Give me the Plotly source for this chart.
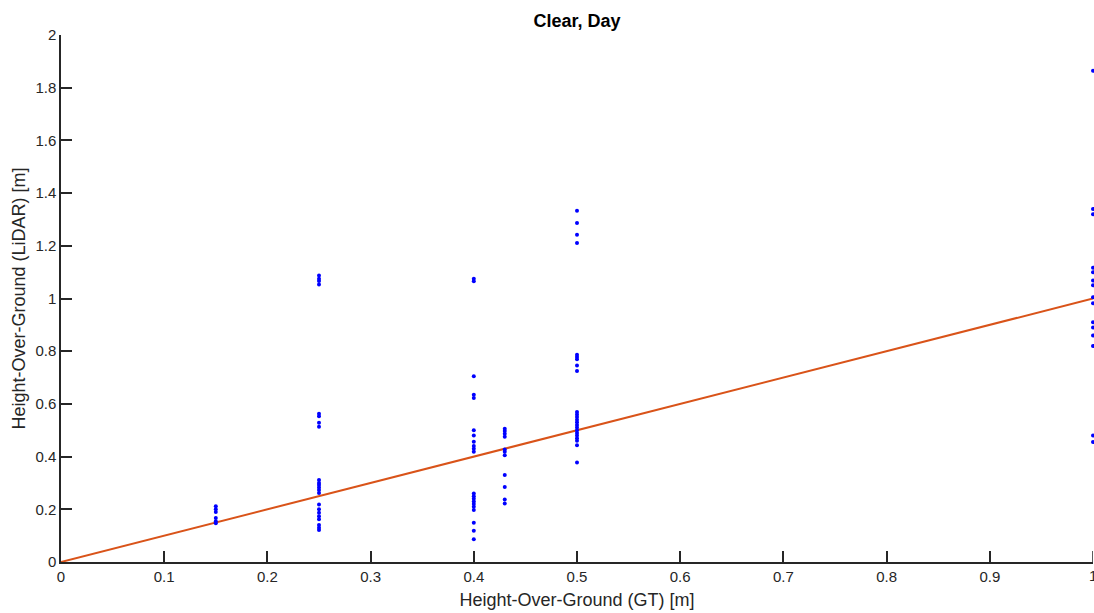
import plotly.graph_objects as go

y_015 = [0.212, 0.200, 0.190, 0.167, 0.155, 0.147]
x_015 = [0.15] * len(y_015)

y_025 = [1.087, 1.075, 1.066, 1.053, 0.563, 0.553, 0.528, 0.513,
         0.311, 0.300, 0.292, 0.283, 0.273, 0.262,
         0.218, 0.200, 0.187, 0.174, 0.162, 0.140, 0.130, 0.121]
x_025 = [0.25] * len(y_025)

y_040 = [1.075, 1.065, 0.705, 0.635, 0.622, 0.500, 0.480, 0.456, 0.440, 0.430, 0.418,
         0.260, 0.250, 0.240, 0.230, 0.220, 0.210, 0.197, 0.149, 0.119, 0.086]
x_040 = [0.4] * len(y_040)

y_043 = [0.506, 0.497, 0.487, 0.475, 0.427, 0.418, 0.405, 0.330, 0.285, 0.237, 0.222]
x_043 = [0.43] * len(y_043)

y_050 = [1.333, 1.287, 1.242, 1.211, 0.787, 0.778, 0.769, 0.746, 0.725,
         0.569, 0.560, 0.550, 0.540, 0.530, 0.520, 0.510, 0.500, 0.490, 0.480,
         0.470, 0.460, 0.443, 0.378]
x_050 = [0.5] * len(y_050)

y_100 = [1.864, 1.340, 1.320, 1.117, 1.100, 1.068, 1.050, 1.005, 0.982,
         0.910, 0.890, 0.860, 0.820, 0.480, 0.455]
x_100 = [1.0] * len(y_100)

line_x = [0, 1]
line_y = [0, 1]

xs = x_015 + x_025 + x_040 + x_043 + x_050 + x_100
ys = y_015 + y_025 + y_040 + y_043 + y_050 + y_100

x_ticks = [0, 0.1, 0.2, 0.3, 0.4, 0.5, 0.6, 0.7, 0.8, 0.9, 1]
y_ticks = [0, 0.2, 0.4, 0.6, 0.8, 1, 1.2, 1.4, 1.6, 1.8, 2]

FONT = "Liberation Sans, Arial, Helvetica"
TICK_COLOR = "#262626"

fig = go.Figure()
fig.add_trace(go.Scatter(x=line_x, y=line_y, mode="lines",
                         line=dict(color="#D95319", width=2),
                         showlegend=False))
fig.add_trace(go.Scatter(x=xs, y=ys, mode="markers",
                         marker=dict(color="#0000FF", size=4),
                         cliponaxis=False, showlegend=False))

axis_common = dict(showgrid=False, zeroline=False, showline=True,
                   linecolor=TICK_COLOR, linewidth=1.5, ticks="inside",
                   ticklen=11, tickwidth=1.5, tickcolor=TICK_COLOR,
                   tickfont=dict(family=FONT, size=15, color=TICK_COLOR),
                   mirror=False)

# last x tick label sits on the page edge (as in the reference); Plotly hides it, so draw it as an annotation
last_x = x_ticks[-1]
fig.add_annotation(x=last_x, xref="x", y=0, yref="paper", text=f"{last_x:g}",
                   showarrow=False, xanchor="center", yanchor="top", yshift=-3,
                   font=dict(family=FONT, size=15, color=TICK_COLOR))

fig.update_layout(
    width=1094, height=613,
    margin=dict(l=61, r=1, t=35, b=51),
    paper_bgcolor="white", plot_bgcolor="white",
    title=dict(text="<b>Clear, Day</b>", xref="paper", x=0.5, xanchor="center",
               yref="container", y=0.967, yanchor="middle",
               font=dict(family=FONT, size=18, color="black")),
    xaxis=dict(range=[0, 1], tickvals=x_ticks[:-1], ticktext=[f"{v:g}" for v in x_ticks[:-1]],
               title=dict(text="Height-Over-Ground (GT) [m]", standoff=10,
                          font=dict(family=FONT, size=18, color=TICK_COLOR)),
               **axis_common),
    yaxis=dict(range=[0, 2], tickvals=y_ticks, ticktext=[f"{v:g}" for v in y_ticks],
               title=dict(text="Height-Over-Ground (LiDAR) [m]", standoff=5,
                          font=dict(family=FONT, size=18, color=TICK_COLOR)),
               **axis_common),
)

# tick mark at x = 1 (label drawn as annotation above)
fig.add_shape(type="line", xref="x", yref="paper", x0=last_x, x1=last_x, y0=0, y1=11 / 527,
              line=dict(color=TICK_COLOR, width=1.5))

fig.write_html("out.html", config={"displayModeBar": False})

with open("out.html", "r", encoding="utf-8") as f:
    html = f.read()
html = html.replace("<head>", "<head><style>html,body{margin:0;padding:0;overflow:hidden}</style>", 1)
with open("out.html", "w", encoding="utf-8") as f:
    f.write(html)
